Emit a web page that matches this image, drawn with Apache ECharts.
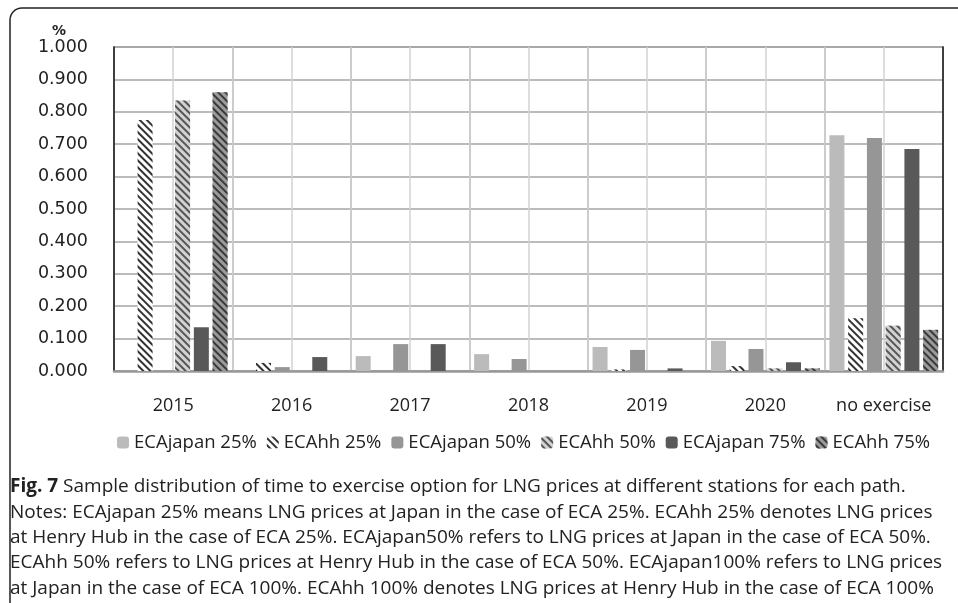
<!DOCTYPE html>
<html>
<head>
<meta charset="utf-8">
<script src="https://cdn.jsdelivr.net/npm/echarts@6/dist/echarts.min.js"></script>
<style>
  html, body { margin: 0; padding: 0; background: #fff; }
  #chart { width: 958px; height: 603px; }
</style>
</head>
<body>
<div id="chart"></div>
<script>
// 类别与数据
const categories = ['2015', '2016', '2017', '2018', '2019', '2020', 'no exercise']
const seriesNames = ['ECAjapan 25%', 'ECAhh 25%', 'ECAjapan 50%', 'ECAhh 50%', 'ECAjapan 75%', 'ECAhh 75%']
const japan25 = [0, 0, 0.046, 0.052, 0.074, 0.093, 0.728]
const hh25 = [0.775, 0.025, 0, 0, 0.005, 0.015, 0.163]
const japan50 = [0, 0.012, 0.083, 0.037, 0.065, 0.068, 0.719]
const hh50 = [0.835, 0, 0, 0, 0, 0.008, 0.140]
const japan75 = [0.135, 0.043, 0.083, 0, 0.008, 0.027, 0.685]
const hh75 = [0.860, 0, 0, 0, 0, 0.008, 0.127]
const yTicks = [0, 0.1, 0.2, 0.3, 0.4, 0.5, 0.6, 0.7, 0.8, 0.9, 1.0]

const captionLines = [
  '{b|Fig. 7} Sample distribution of time to exercise option for LNG prices at different stations for each path.',
  'Notes: ECAjapan 25% means LNG prices at Japan in the case of ECA 25%. ECAhh 25% denotes LNG prices',
  'at Henry Hub in the case of ECA 25%. ECAjapan50% refers to LNG prices at Japan in the case of ECA 50%.',
  'ECAhh 50% refers to LNG prices at Henry Hub in the case of ECA 50%. ECAjapan100% refers to LNG prices',
  'at Japan in the case of ECA 100%. ECAhh 100% denotes LNG prices at Henry Hub in the case of ECA 100%'
]

const sans = '"Open Sans", sans-serif'

// 斜线填充
const hatch = (color) => ({
  color: color,
  symbol: 'rect',
  symbolSize: 1,
  dashArrayX: [1, 0],
  dashArrayY: [2, 3],
  rotation: Math.PI / 4
})

const styles = [
  { color: '#bbbbbb' },
  { color: '#ffffff', decal: hatch('#333333') },
  { color: '#969696' },
  { color: '#d2d2d2', decal: hatch('#555555') },
  { color: '#595959' },
  { color: '#9a9a9a', decal: hatch('#3a3a3a') }
]
const values = [japan25, hh25, japan50, hh50, japan75, hh75]

const chart = echarts.init(document.getElementById('chart'))

const option = {
  animation: false,
  grid: {
    left: 114, right: 15, top: 47, bottom: 232,
    show: true, borderColor: '#999', borderWidth: 1.5
  },
  legend: {
    data: seriesNames,
    top: 428,
    left: 112,
    itemWidth: 12,
    itemHeight: 12,
    itemGap: 10,
    textStyle: { fontFamily: sans, fontSize: 18.5, color: '#222' }
  },
  xAxis: [
    {
      type: 'category',
      data: categories,
      axisLine: { lineStyle: { color: '#999', width: 2.5 } },
      axisTick: { show: false },
      axisLabel: { interval: 0, margin: 26, fontFamily: sans, fontSize: 18, color: '#222' },
      splitLine: { show: true, interval: 0, lineStyle: { color: '#a5a5a5', width: 1.5 } }
    },
    {
      type: 'category',
      data: categories.flatMap(c => [c + 'a', c + 'b']),
      position: 'bottom',
      axisLine: { show: false },
      axisTick: { show: false },
      axisLabel: { show: false },
      splitLine: { show: true, interval: 0, lineStyle: { color: '#d2d2d2', width: 1.5 } }
    }
  ],
  yAxis: [
    {
      type: 'value',
      min: 0, max: 1, interval: 0.1,
      axisLine: { show: true, lineStyle: { color: '#111', width: 1.5 } },
      axisTick: { show: false },
      axisLabel: {
        margin: 26, fontFamily: 'DejaVu Sans', fontSize: 17.5, color: '#222',
        formatter: v => yTicks.includes(Math.round(v * 10) / 10) ? v.toFixed(3) : ''
      },
      splitLine: { lineStyle: { color: '#a5a5a5', width: 1.5 } }
    },
    {
      type: 'value',
      min: 0, max: 1, interval: 0.1,
      position: 'right',
      axisLine: { show: true, lineStyle: { color: '#111', width: 1.5 } },
      axisTick: { show: false },
      axisLabel: { show: false },
      splitLine: { show: false }
    }
  ],
  series: seriesNames.map((name, i) => ({
    name: name,
    type: 'bar',
    data: values[i],
    barWidth: 15,
    barGap: '25%',
    itemStyle: styles[i]
  })),
  graphic: [
    {
      type: 'rect',
      shape: { x: 10, y: 8, width: 980, height: 640, r: [12, 0, 0, 0] },
      style: { fill: 'none', stroke: '#222', lineWidth: 1.5 },
      silent: true
    },
    {
      type: 'text',
      left: 52,
      top: 24,
      style: { text: '%', fontFamily: 'DejaVu Sans', fontWeight: 'bold', fontSize: 14, fill: '#222' }
    },
    ...captionLines.map((line, i) => ({
      type: 'text',
      left: 10,
      top: 475 + i * 25.3,
      style: {
        text: line,
        fontFamily: sans,
        fontSize: 19,
        lineHeight: 24,
        fill: '#222',
        rich: { b: { fontFamily: sans, fontSize: 19, lineHeight: 24, fontWeight: 'bold', fill: '#222' } }
      }
    }))
  ]
}

chart.setOption(option)
window.addEventListener('resize', () => chart.resize())
</script>
</body>
</html>
